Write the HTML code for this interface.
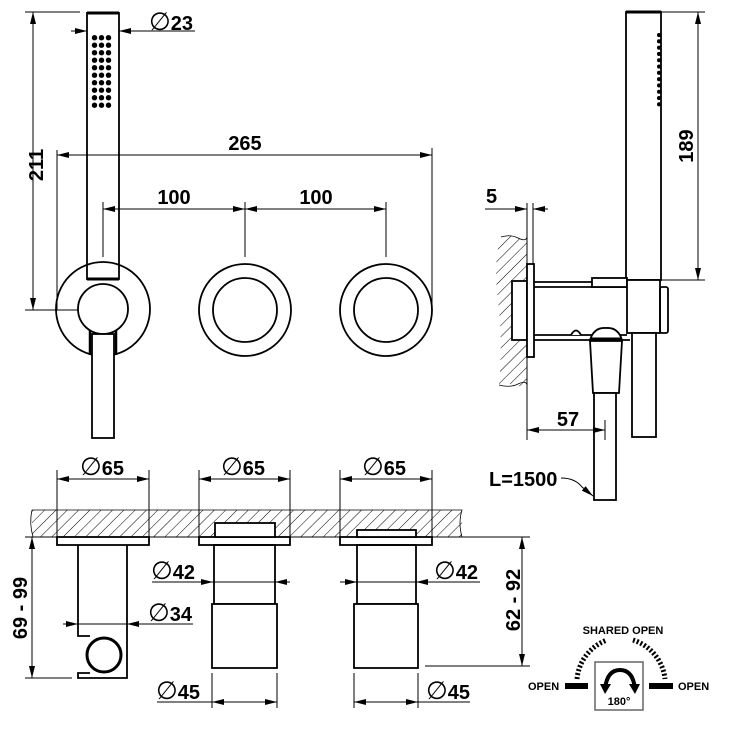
<!DOCTYPE html>
<html><head><meta charset="utf-8"><style>
html,body{margin:0;padding:0;background:#fff;}
svg{display:block;}
text{font-family:"Liberation Sans",Arial,sans-serif;font-weight:bold;fill:#000;}
.o{font-weight:normal;font-size:25px;}
</style></head><body>
<svg width="750" height="750" viewBox="0 0 750 750" xmlns="http://www.w3.org/2000/svg">
<defs>
<marker id="a" viewBox="0 0 12 6" refX="12" refY="3" markerWidth="12" markerHeight="6" markerUnits="userSpaceOnUse" orient="auto-start-reverse">
<path d="M0,0 L12,3 L0,6 Z" fill="#000"/></marker>
<pattern id="h" patternUnits="userSpaceOnUse" width="8" height="8" patternTransform="rotate(45)">
<line x1="0" y1="0" x2="0" y2="8" stroke="#000" stroke-width="1"/></pattern>
<pattern id="d" patternUnits="userSpaceOnUse" x="91" y="34" width="7" height="7.5">
<circle cx="3.5" cy="3.7" r="2.7" fill="#000"/></pattern>
</defs>
<g stroke="#000" fill="none" stroke-width="1">
<!-- ===== Front view ===== -->
<rect x="87" y="13" width="32" height="266" stroke-width="1.8"/>
<line x1="87" y1="13" x2="119" y2="13" stroke-width="3"/>
<line x1="87" y1="279" x2="119" y2="279" stroke-width="3"/>
<rect x="91" y="34" width="21" height="75" fill="url(#d)" stroke="none"/>
<!-- Ø23 -->
<line x1="71" y1="31" x2="87" y2="31" marker-end="url(#a)"/>
<line x1="195" y1="31" x2="119" y2="31" marker-end="url(#a)"/>
<!-- 211 -->
<line x1="33" y1="12" x2="33" y2="310" marker-start="url(#a)" marker-end="url(#a)"/>
<line x1="25" y1="12" x2="80" y2="12"/>
<line x1="25" y1="310" x2="97" y2="310"/>
<!-- 265 -->
<line x1="57" y1="155" x2="432" y2="155" marker-start="url(#a)" marker-end="url(#a)"/>
<line x1="57" y1="150" x2="57" y2="310"/>
<line x1="432" y1="148" x2="432" y2="310"/>
<!-- 100 100 -->
<line x1="103" y1="209" x2="245" y2="209" marker-start="url(#a)" marker-end="url(#a)"/>
<line x1="245" y1="209" x2="386" y2="209" marker-start="url(#a)" marker-end="url(#a)"/>
<line x1="103" y1="202" x2="103" y2="257"/>
<line x1="245" y1="202" x2="245" y2="257"/>
<line x1="386" y1="202" x2="386" y2="257"/>
<!-- wall plate -->
<circle cx="103" cy="309" r="47" stroke-width="1.8"/>
<circle cx="103" cy="309" r="25" stroke-width="1.8" fill="#fff"/>
<rect x="92" y="334" width="22" height="104" stroke-width="1.8" fill="#fff"/>
<line x1="90" y1="330" x2="90" y2="355" stroke-width="2.5"/>
<line x1="116" y1="330" x2="116" y2="355" stroke-width="2.5"/>
<circle cx="245" cy="310" r="46" stroke-width="1.8"/>
<circle cx="245" cy="310" r="32" stroke-width="1.8"/>
<circle cx="386" cy="310" r="46" stroke-width="1.8"/>
<circle cx="386" cy="310" r="32" stroke-width="1.8"/>

<!-- ===== Side view ===== -->
<rect x="626" y="12" width="35" height="268" stroke-width="1.8"/>
<line x1="626" y1="12" x2="661" y2="12" stroke-width="3"/>
<line x1="659" y1="35" x2="659" y2="110" stroke-width="4" stroke-linecap="round" stroke-dasharray="0.1 6.2"/>
<!-- 189 -->
<line x1="698" y1="12" x2="698" y2="280" marker-start="url(#a)" marker-end="url(#a)"/>
<line x1="661" y1="12" x2="705" y2="12"/>
<line x1="661" y1="280" x2="705" y2="280"/>
<!-- wall -->
<path d="M501,237 Q510,234 518,238 T527,237 V385 Q518,388 510,384 T499,385 Q503,340 498,300 T501,237 Z" fill="url(#h)" stroke="none"/>
<path d="M501,237 Q510,234 518,238 T527,237" stroke-width="0.8"/>
<path d="M499,385 Q510,388 518,384 T527,385" stroke-width="0.8"/>
<line x1="527" y1="203" x2="527" y2="440"/>
<line x1="533" y1="203" x2="533" y2="264"/>
<!-- 5 -->
<line x1="485" y1="209" x2="527" y2="209" marker-end="url(#a)"/>
<line x1="548" y1="209" x2="533" y2="209" marker-end="url(#a)"/>
<rect x="512" y="281" width="15" height="59" stroke-width="1.8" fill="#fff"/>
<rect x="527" y="264" width="7" height="93" stroke-width="1.8" fill="#fff"/>
<line x1="534" y1="282" x2="592" y2="282" stroke-width="1.8"/>
<line x1="534" y1="287" x2="627" y2="287" stroke-width="1.8"/>
<line x1="534" y1="335" x2="627" y2="335" stroke-width="1.8"/>
<line x1="534" y1="340" x2="630" y2="340" stroke-width="1.8"/>
<rect x="592" y="278" width="35" height="9" stroke-width="1.8" fill="#fff"/>
<rect x="627" y="280" width="33" height="53" stroke-width="1.8" fill="#fff"/>
<rect x="660" y="287" width="8" height="46" rx="2" stroke-width="1.8"/>
<path d="M571,335 Q576,326 581,335" stroke-width="1.8" fill="#fff"/>
<path d="M590,340 Q594,327 606,328 Q618,327 622,340 Z" stroke-width="1.8" fill="#fff"/>
<line x1="590" y1="339" x2="622" y2="339" stroke-width="3"/>
<path d="M590,341 L593,393 H619 L622,341 Z" stroke-width="1.8" fill="#fff"/>
<rect x="594" y="393" width="22" height="107" stroke-width="1.8" fill="#fff"/>
<rect x="632" y="333" width="24" height="104" stroke-width="1.8" fill="#fff"/>
<!-- 57 -->
<line x1="527" y1="430" x2="605" y2="430" marker-start="url(#a)" marker-end="url(#a)"/>
<line x1="605" y1="420" x2="605" y2="440"/>
<!-- L=1500 leader -->
<path d="M561,478 Q575,478 582,487 L593,496" marker-end="url(#a)"/>

<!-- ===== Bottom views ===== -->
<rect x="32" y="510" width="430" height="27" fill="url(#h)" stroke="none"/>
<path d="M32,510 H462 Q458,523 462,537" stroke-width="0.8"/>
<path d="M32,510 Q29,523 33,537" stroke-width="0.8"/>
<line x1="25" y1="537" x2="530" y2="537"/>
<!-- Ø65 -->
<line x1="57" y1="479" x2="149" y2="479" marker-start="url(#a)" marker-end="url(#a)"/>
<line x1="57" y1="470" x2="57" y2="537"/><line x1="149" y1="470" x2="149" y2="537"/>
<line x1="199" y1="479" x2="290" y2="479" marker-start="url(#a)" marker-end="url(#a)"/>
<line x1="199" y1="470" x2="199" y2="537"/><line x1="290" y1="470" x2="290" y2="537"/>
<line x1="340" y1="479" x2="432" y2="479" marker-start="url(#a)" marker-end="url(#a)"/>
<line x1="340" y1="470" x2="340" y2="537"/><line x1="432" y1="470" x2="432" y2="537"/>
<!-- plates -->
<rect x="57" y="537" width="92" height="8" stroke-width="1.8" fill="#fff"/>
<rect x="199" y="537" width="91" height="8" stroke-width="1.8" fill="#fff"/>
<rect x="340" y="537" width="92" height="8" stroke-width="1.8" fill="#fff"/>
<!-- left body -->
<path d="M78,545 V636 H90 M90,673 H78 V678 H127 V545" stroke-width="1.8"/>
<circle cx="104" cy="655" r="17" stroke-width="3"/>
<line x1="63" y1="624" x2="78" y2="624" marker-end="url(#a)"/>
<line x1="78" y1="624" x2="127" y2="624"/>
<line x1="193" y1="624" x2="127" y2="624" marker-end="url(#a)"/>
<line x1="32" y1="537" x2="32" y2="678" marker-start="url(#a)" marker-end="url(#a)"/>
<line x1="25" y1="678" x2="72" y2="678"/>
<!-- middle -->
<rect x="215" y="523" width="60" height="14" stroke-width="1.8" fill="#fff"/>
<rect x="214" y="545" width="61" height="59" stroke-width="1.8"/>
<rect x="212" y="604" width="65" height="64" stroke-width="1.8" fill="#fff"/>
<line x1="152" y1="582" x2="213" y2="582" marker-end="url(#a)"/>
<line x1="213" y1="582" x2="275" y2="582"/>
<line x1="290" y1="582" x2="275" y2="582" marker-end="url(#a)"/>
<line x1="212" y1="673" x2="212" y2="708"/><line x1="277" y1="673" x2="277" y2="708"/>
<line x1="157" y1="702" x2="212" y2="702"/>
<line x1="212" y1="702" x2="277" y2="702" marker-start="url(#a)" marker-end="url(#a)"/>
<!-- right -->
<rect x="357" y="530" width="59" height="7" stroke-width="1.8" fill="#fff"/>
<rect x="357" y="545" width="59" height="59" stroke-width="1.8"/>
<rect x="354" y="604" width="64" height="64" stroke-width="1.8" fill="#fff"/>
<line x1="340" y1="582" x2="357" y2="582" marker-end="url(#a)"/>
<line x1="357" y1="582" x2="416" y2="582"/>
<line x1="480" y1="582" x2="416" y2="582" marker-end="url(#a)"/>
<line x1="354" y1="673" x2="354" y2="708"/><line x1="418" y1="673" x2="418" y2="708"/>
<line x1="354" y1="702" x2="418" y2="702" marker-start="url(#a)" marker-end="url(#a)"/>
<line x1="418" y1="702" x2="470" y2="702"/>
<!-- 62-92 -->
<line x1="522" y1="537" x2="522" y2="666" marker-start="url(#a)" marker-end="url(#a)"/>
<line x1="425" y1="666" x2="530" y2="666"/>

<!-- legend -->
<path d="M577,679 A46,46 0 0 1 607,640" stroke-width="5" stroke-dasharray="2 2"/>
<path d="M633,640 A46,46 0 0 1 665,679" stroke-width="5" stroke-dasharray="2 2"/>
<rect x="565" y="683" width="23" height="6" fill="#000" stroke="none"/>
<rect x="649" y="683" width="24" height="6" fill="#000" stroke="none"/>
<rect x="595" y="662" width="48" height="48" stroke="#666" stroke-width="1.5"/>
<path d="M605,689 Q607,670 620,670 Q633,670 635,689" stroke-width="4"/>
<path d="M600,684 L605,694 L611,684 Z" fill="#000" stroke="none"/>
<path d="M629,684 L635,694 L640,684 Z" fill="#000" stroke="none"/>
</g>
<text x="149" y="30" font-size="20"><tspan class="o">∅</tspan>23</text>
<text x="0" y="0" font-size="20" transform="translate(43,165) rotate(-90)" text-anchor="middle">211</text>
<text x="245" y="150" font-size="20" text-anchor="middle">265</text>
<text x="174" y="204" font-size="20" text-anchor="middle">100</text>
<text x="316" y="204" font-size="20" text-anchor="middle">100</text>
<text x="0" y="0" font-size="20" transform="translate(693,146) rotate(-90)" text-anchor="middle">189</text>
<text x="486" y="203" font-size="20">5</text>
<text x="568" y="426" font-size="20" text-anchor="middle">57</text>
<text x="489" y="486" font-size="20">L=1500</text>
<text x="80" y="475" font-size="20"><tspan class="o">∅</tspan>65</text>
<text x="221" y="475" font-size="20"><tspan class="o">∅</tspan>65</text>
<text x="362" y="475" font-size="20"><tspan class="o">∅</tspan>65</text>
<text x="151" y="579" font-size="20"><tspan class="o">∅</tspan>42</text>
<text x="434" y="579" font-size="20"><tspan class="o">∅</tspan>42</text>
<text x="148" y="621" font-size="20"><tspan class="o">∅</tspan>34</text>
<text x="156" y="699" font-size="20"><tspan class="o">∅</tspan>45</text>
<text x="426" y="699" font-size="20"><tspan class="o">∅</tspan>45</text>
<text x="0" y="0" font-size="20" transform="translate(27,608) rotate(-90)" text-anchor="middle">69 - 99</text>
<text x="0" y="0" font-size="20" transform="translate(520,600) rotate(-90)" text-anchor="middle">62 - 92</text>
<text x="623" y="634" font-size="11" text-anchor="middle">SHARED OPEN</text>
<text x="528" y="690" font-size="11">OPEN</text>
<text x="678" y="690" font-size="11">OPEN</text>
<text x="619" y="705" font-size="11" text-anchor="middle">180°</text>
</svg>
</body></html>
